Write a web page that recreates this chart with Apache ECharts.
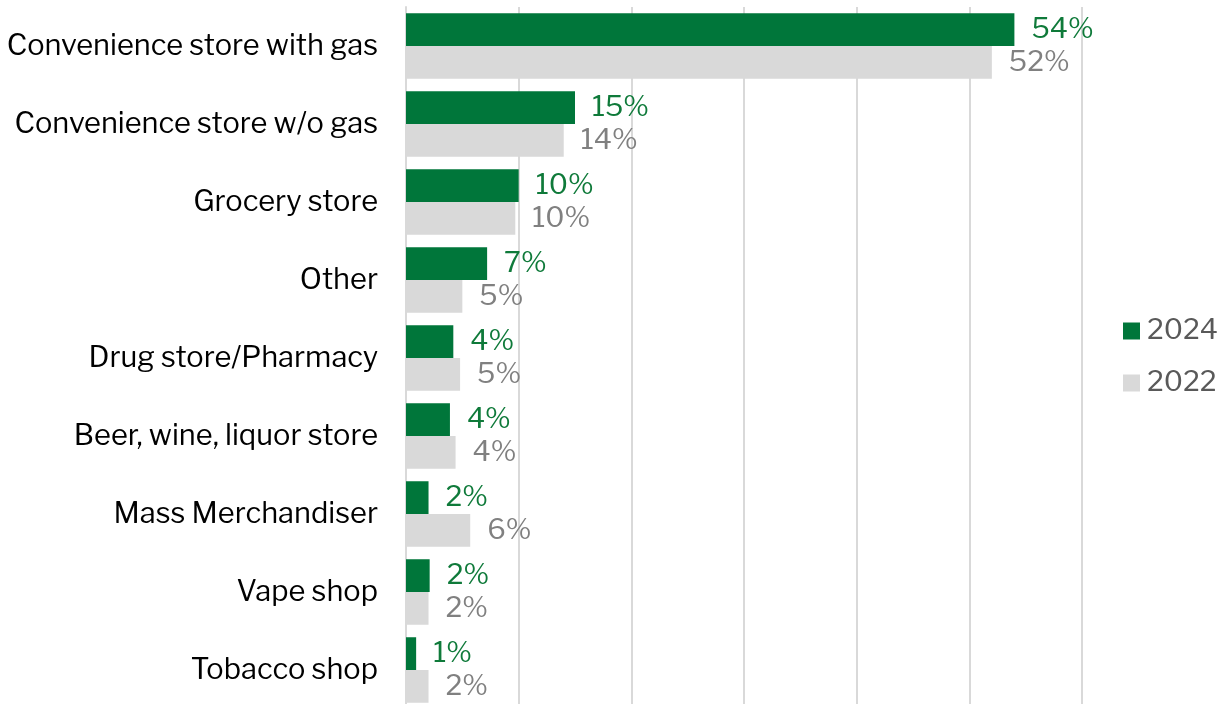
<!DOCTYPE html>
<html>
<head>
<meta charset="utf-8">
<script src="https://cdn.jsdelivr.net/npm/echarts@6/dist/echarts.min.js"></script>
<style>
  html, body { margin: 0; padding: 0; background: #fff; }
  #chart { width: 1228px; height: 704px; }
</style>
</head>
<body>
<div id="chart"></div>
<script>
// Store types, listed top to bottom
const categories = [
  'Convenience store with gas',
  'Convenience store w/o gas',
  'Grocery store',
  'Other',
  'Drug store/Pharmacy',
  'Beer, wine, liquor store',
  'Mass Merchandiser',
  'Vape shop',
  'Tobacco shop'
];

// Share of purchases by store type (%)
const values2024 = [54.0, 15.0, 10.0, 7.2, 4.2, 3.9, 2.0, 2.1, 0.9];
const values2022 = [52.0, 14.0, 9.7, 5.0, 4.8, 4.4, 5.7, 2.0, 2.0];

const seriesNames = ['2024', '2022'];

const FONT = "'Libre Franklin', 'Franklin Gothic Book', Lato, sans-serif";
const GREEN = '#00763a';
const GREY = '#d9d9d9';

const chart = echarts.init(document.getElementById('chart'));

const pct = p => Math.round(p.value) + '%';

chart.setOption({
  animation: false,
  textStyle: { fontFamily: FONT },
  grid: {
    left: 406, right: 146, top: 7, bottom: -5,
    containLabel: false, outerBoundsMode: 'none'
  },
  legend: {
    orient: 'vertical',
    right: 5,
    top: 312,
    itemWidth: 17,
    itemHeight: 17,
    itemGap: 24,
    icon: 'rect',
    data: seriesNames,
    textStyle: { fontSize: 28, color: '#595959', fontFamily: FONT, padding: [0, 0, 0, 2] }
  },
  xAxis: {
    type: 'value',
    min: 0,
    max: 60,
    interval: 10,
    axisLabel: { show: false },
    axisTick: { show: false },
    axisLine: { show: false },
    splitLine: { show: true, lineStyle: { color: '#d9d9d9', width: 2 } }
  },
  yAxis: {
    type: 'category',
    inverse: true,
    data: categories,
    axisTick: { show: false },
    axisLine: { show: true, lineStyle: { color: '#d9d9d9', width: 2 } },
    axisLabel: { fontSize: 29, color: '#000', margin: 28, fontFamily: FONT, padding: [4, 0, 0, 0] }
  },
  series: [
    {
      name: seriesNames[0],
      type: 'bar',
      data: values2024,
      barGap: '0%',
      barCategoryGap: '16%',
      itemStyle: { color: GREEN },
      label: {
        show: true, position: 'right', distance: 17,
        formatter: pct, color: '#0f7a3a', fontSize: 28, fontFamily: FONT, padding: [7, 0, 0, 0]
      }
    },
    {
      name: seriesNames[1],
      type: 'bar',
      data: values2022,
      barGap: '0%',
      barCategoryGap: '16%',
      itemStyle: { color: GREY },
      label: {
        show: true, position: 'right', distance: 17,
        formatter: pct, color: '#808080', fontSize: 28, fontFamily: FONT, padding: [7, 0, 0, 0]
      }
    }
  ]
});
</script>
</body>
</html>
